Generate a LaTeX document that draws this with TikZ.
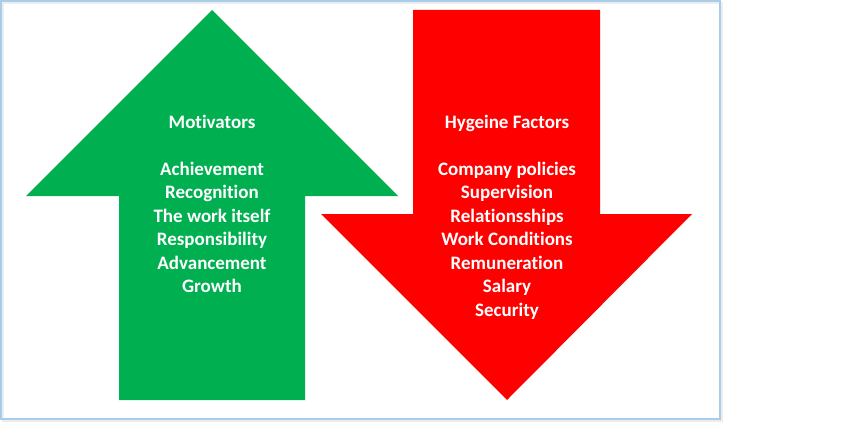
\documentclass[tikz,border=0pt]{standalone}
\usepackage{fontspec}
\setmainfont[Ligatures={NoCommon,NoContextual,NoRare},Contextuals=NoAlternate]{Carlito}
\definecolor{motgreen}{HTML}{00B050}
\definecolor{hygred}{HTML}{FF0000}
\definecolor{framblue}{HTML}{A8CDEB}
\tikzset{
  arrowtext/.style={text=white, align=center, inner sep=0pt, font=\bfseries\fontsize{19}{23.5}\selectfont},
}
\begin{document}
\begin{tikzpicture}[x=1pt,y=-1pt]
\useasboundingbox (0,0) rectangle (850,441);
% frame
\draw[line width=2.5pt, black!7] (3,3) rectangle (722,421);
\draw[line width=1.8pt, framblue] (1,1) rectangle (720,419);
% motivators arrow (up)
\fill[motgreen] (212,10) -- (398,196) -- (305,196) -- (305,400) -- (119,400) -- (119,196) -- (26,196) -- cycle;
% hygiene arrow (down)
\fill[hygred] (413,10) -- (600,10) -- (600,214) -- (692,214) -- (507,400) -- (321,214) -- (413,214) -- cycle;
\node[arrowtext, anchor=north] (motiv) at (212,114.5) {Motivators\\[23.5pt]Achievement\\Recognition\\The work itself\\Responsibility\\Advancement\\Growth};
\node[arrowtext, anchor=north] (hyg) at (507,114.5) {Hygeine Factors\\[23.5pt]Company policies\\Supervision\\Relationsships\\Work Conditions\\Remuneration\\Salary\\Security};
\end{tikzpicture}
\end{document}
